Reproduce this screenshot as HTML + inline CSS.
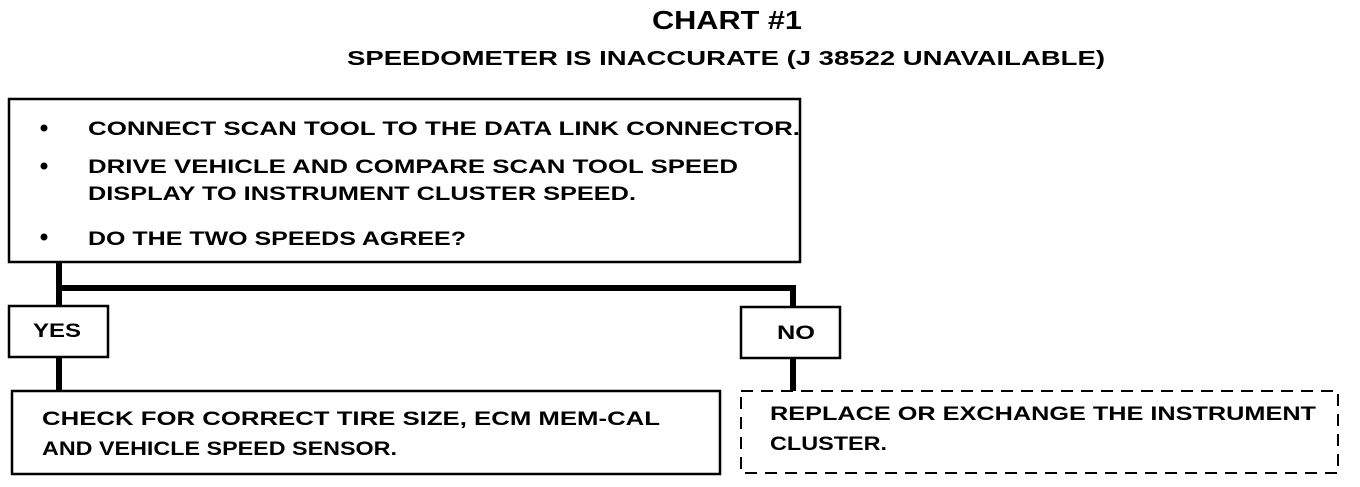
<!DOCTYPE html>
<html><head><meta charset="utf-8"><style>
html,body{margin:0;padding:0;background:#fff;}
svg text{font-family:"Liberation Sans",Arial,sans-serif;font-weight:bold;fill:#000;}
</style></head><body>
<svg width="1360" height="482" viewBox="0 0 1360 482" xmlns="http://www.w3.org/2000/svg">
<text x="652" y="29" font-size="26" textLength="150" lengthAdjust="spacingAndGlyphs">CHART #1</text>
<text x="347" y="65" font-size="20" textLength="758" lengthAdjust="spacingAndGlyphs">SPEEDOMETER IS INACCURATE (J 38522 UNAVAILABLE)</text>

<rect x="9" y="99" width="791" height="163" fill="none" stroke="#000" stroke-width="2.5"/>
<circle cx="44" cy="128" r="3.5"/>
<circle cx="44" cy="166" r="3.5"/>
<circle cx="44" cy="237" r="3.5"/>
<text x="88" y="135" font-size="19" textLength="712" lengthAdjust="spacingAndGlyphs">CONNECT SCAN TOOL TO THE DATA LINK CONNECTOR.</text>
<text x="88" y="173" font-size="19" textLength="650" lengthAdjust="spacingAndGlyphs">DRIVE VEHICLE AND COMPARE SCAN TOOL SPEED</text>
<text x="88" y="200" font-size="19" textLength="548" lengthAdjust="spacingAndGlyphs">DISPLAY TO INSTRUMENT CLUSTER SPEED.</text>
<text x="88" y="245" font-size="19" textLength="378" lengthAdjust="spacingAndGlyphs">DO THE TWO SPEEDS AGREE?</text>

<path d="M59 262 V306 M59 288 H793 V306" fill="none" stroke="#000" stroke-width="6"/>
<rect x="9" y="306" width="99" height="51" fill="#fff" stroke="#000" stroke-width="2.5"/>
<text x="33" y="337" font-size="19" textLength="48" lengthAdjust="spacingAndGlyphs">YES</text>
<rect x="741" y="307" width="99" height="51" fill="#fff" stroke="#000" stroke-width="2.5"/>
<text x="777" y="339" font-size="19" textLength="38" lengthAdjust="spacingAndGlyphs">NO</text>

<path d="M59 357 V391 M793 358 V391" fill="none" stroke="#000" stroke-width="6"/>
<rect x="12" y="391" width="708" height="83" fill="none" stroke="#000" stroke-width="2.5"/>
<text x="42" y="425" font-size="19" textLength="618" lengthAdjust="spacingAndGlyphs">CHECK FOR CORRECT TIRE SIZE, ECM MEM-CAL</text>
<text x="42" y="455" font-size="19" textLength="355" lengthAdjust="spacingAndGlyphs">AND VEHICLE SPEED SENSOR.</text>

<rect x="741" y="391" width="597" height="82" fill="none" stroke="#000" stroke-width="2" stroke-dasharray="12,8"/>
<text x="770" y="420" font-size="19" textLength="546" lengthAdjust="spacingAndGlyphs">REPLACE OR EXCHANGE THE INSTRUMENT</text>
<text x="770" y="450" font-size="19" textLength="117" lengthAdjust="spacingAndGlyphs">CLUSTER.</text>
</svg>
</body></html>
